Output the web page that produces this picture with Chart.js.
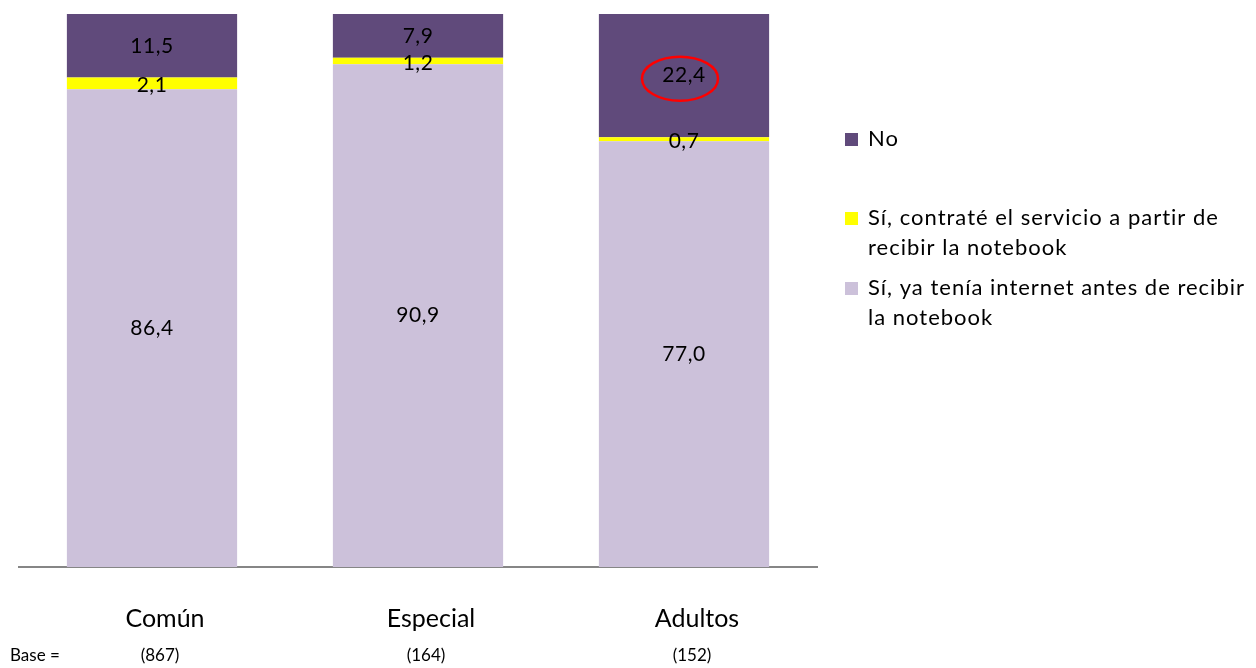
<!DOCTYPE html>
<html>
<head>
<meta charset="utf-8">
<script src="https://cdn.jsdelivr.net/npm/chart.js@4.4.1/dist/chart.umd.min.js"></script>
<style>
  html, body { margin: 0; padding: 0; background: #ffffff; }
  #wrap { width: 1256px; height: 668px; position: relative; }
</style>
</head>
<body>
<div id="wrap"><canvas id="c" width="1256" height="668"></canvas></div>
<script>
// ---- data ----
const categories = ["Común", "Especial", "Adultos"];
const baseLabel = "Base =";
const baseCounts = ["(867)", "(164)", "(152)"];
const yaTeniaValues = [86.4, 90.9, 77.0];
const contrateValues = [2.1, 1.2, 0.7];
const noValues = [11.5, 7.9, 22.4];
const seriesLabels = [
  ["Sí, ya tenía internet antes de recibir", "la notebook"],
  ["Sí, contraté el servicio a partir de", "recibir la notebook"],
  ["No"]
];
const highlightSeries = 2;  // "No"
const highlightIndex = 2;   // "Adultos"

// ---- styles ----
const FONT = "Lato, 'Open Sans', 'DejaVu Sans', sans-serif";
const colors = ["#CCC1DA", "#FFFF00", "#604A7B"];

const dataLabelPlugin = {
  id: "dataLabels",
  afterDatasetsDraw(chart) {
    const ctx = chart.ctx;
    ctx.save();
    ctx.font = "21px " + FONT;
    if ("letterSpacing" in ctx) ctx.letterSpacing = "0.5px";
    ctx.fillStyle = "#000000";
    ctx.textAlign = "center";
    ctx.textBaseline = "middle";
    chart.data.datasets.forEach((ds, di) => {
      const meta = chart.getDatasetMeta(di);
      meta.data.forEach((el, i) => {
        const top = Math.max(el.y, chart.chartArea.top);
        const y = (top + el.base) / 2 + (di === 1 ? 2 : 0);
        const txt = ds.data[i].toFixed(1).replace(".", ",");
        ctx.fillText(txt, el.x, y);
        if (di === highlightSeries && i === highlightIndex) {
          ctx.beginPath();
          ctx.strokeStyle = "#FF0000";
          ctx.lineWidth = 2.5;
          ctx.ellipse(el.x - 4, y + 3, 38, 22, 0, 0, Math.PI * 2);
          ctx.stroke();
        }
      });
    });
    ctx.restore();
  }
};

const legendPlugin = {
  id: "customLegend",
  afterDraw(chart) {
    const ctx = chart.ctx;
    ctx.save();
    ctx.font = "22px " + FONT;
    if ("letterSpacing" in ctx) ctx.letterSpacing = "1px";
    ctx.fillStyle = "#000000";
    ctx.textAlign = "left";
    ctx.textBaseline = "middle";
    const boxX = 845, textX = 868, lineH = 30;
    const itemY = [139, 218, 288]; // first-line centres for No, Sí contraté, Sí ya tenía
    const order = [2, 1, 0];
    order.forEach((di, k) => {
      const ds = chart.data.datasets[di];
      const y = itemY[k];
      ctx.fillStyle = ds.backgroundColor;
      ctx.fillRect(boxX, y - 6, 13, 13);
      ctx.fillStyle = "#000000";
      seriesLabels[di].forEach((line, li) => {
        ctx.fillText(line, textX, y + li * lineH);
      });
    });
    ctx.restore();
  }
};

const basePlugin = {
  id: "baseRow",
  afterDraw(chart) {
    const ctx = chart.ctx;
    const xs = chart.scales.x;
    ctx.save();
    ctx.font = "17px " + FONT;
    ctx.fillStyle = "#000000";
    ctx.textBaseline = "middle";
    ctx.textAlign = "left";
    ctx.fillText(baseLabel, 10, 656);
    ctx.textAlign = "center";
    baseCounts.forEach((b, i) => {
      ctx.fillText(b, xs.getPixelForValue(i) + 8, 656);
    });
    ctx.restore();
  }
};

new Chart(document.getElementById("c"), {
  type: "bar",
  data: {
    labels: categories,
    datasets: [
      { label: seriesLabels[0].join(" "), data: yaTeniaValues, backgroundColor: colors[0] },
      { label: seriesLabels[1].join(" "), data: contrateValues, backgroundColor: colors[1] },
      { label: seriesLabels[2].join(" "), data: noValues, backgroundColor: colors[2] }
    ]
  },
  options: {
    responsive: false,
    animation: false,
    devicePixelRatio: 1,
    layout: { padding: { left: 19, right: 439, top: 14, bottom: 0 } },
    datasets: { bar: { categoryPercentage: 1.0, barPercentage: 0.64 } },
    plugins: { legend: { display: false }, tooltip: { enabled: false } },
    scales: {
      x: {
        stacked: true,
        grid: { display: false, drawTicks: false },
        border: { display: true, color: "#868686", width: 2 },
        ticks: { color: "#000000", font: { family: FONT, size: 25 }, padding: 37, labelOffset: 13 },
        afterFit(scale) { scale.height = 101; }
      },
      y: {
        stacked: true,
        display: false,
        min: 0,
        max: 100
      }
    }
  },
  plugins: [dataLabelPlugin, legendPlugin, basePlugin]
});
</script>
</body>
</html>
